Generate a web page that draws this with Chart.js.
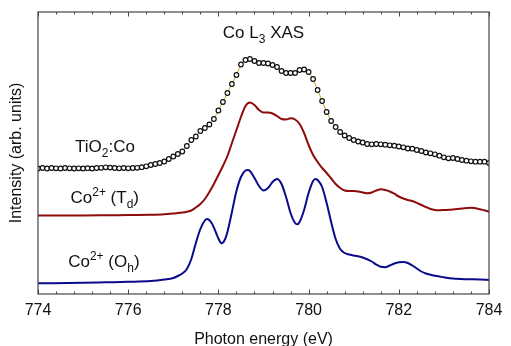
<!DOCTYPE html>
<html>
<head>
<meta charset="utf-8">
<script src="https://cdn.jsdelivr.net/npm/chart.js@4.4.1/dist/chart.umd.min.js"></script>
<style>
html,body{margin:0;padding:0;background:#fff;}
canvas{display:block;}
</style>
</head>
<body>
<canvas id="c" width="511" height="346"></canvas>
<script>
// ---- Data (Photon energy in eV, intensity in arb. units) ----
const energyTiO2 = [774.0,774.1,774.2,774.3,774.4,774.5,774.6,774.7,774.8,774.9,
775.0,775.1,775.2,775.3,775.4,775.5,775.6,775.7,775.8,775.9,
776.0,776.1,776.2,776.3,776.4,776.5,776.6,776.7,776.8,776.9,
777.0,777.1,777.2,777.3,777.4,777.5,777.6,777.7,777.8,777.9,
778.0,778.1,778.2,778.3,778.4,778.5,778.6,778.7,778.8,778.9,
779.0,779.1,779.2,779.3,779.4,779.5,779.6,779.7,779.8,779.9,
780.0,780.1,780.2,780.3,780.4,780.5,780.6,780.7,780.8,780.9,
781.0,781.1,781.2,781.3,781.4,781.5,781.6,781.7,781.8,781.9,
782.0,782.1,782.2,782.3,782.4,782.5,782.6,782.7,782.8,782.9,
783.0,783.1,783.2,783.3,783.4,783.5,783.6,783.7,783.8,783.9,784.0];
const intensityTiO2 = [1.255,1.26,1.255,1.26,1.257,1.255,1.26,1.257,1.255,1.257,
1.255,1.258,1.255,1.26,1.262,1.267,1.264,1.26,1.257,1.26,
1.257,1.26,1.262,1.268,1.277,1.29,1.30,1.31,1.325,1.35,
1.375,1.40,1.425,1.48,1.54,1.575,1.63,1.66,1.695,1.75,
1.835,1.92,2.01,2.10,2.19,2.295,2.34,2.35,2.33,2.31,
2.31,2.305,2.29,2.27,2.23,2.21,2.21,2.21,2.24,2.245,
2.22,2.15,2.04,1.93,1.82,1.73,1.67,1.62,1.585,1.56,
1.54,1.525,1.515,1.50,1.497,1.50,1.497,1.493,1.487,1.483,
1.475,1.467,1.455,1.453,1.44,1.43,1.415,1.407,1.397,1.383,
1.367,1.357,1.36,1.35,1.34,1.333,1.327,1.323,1.323,1.323,1.31];

const energyTd = [774.0,774.5,775.0,775.5,776.0,776.5,776.8,777.0,777.1,777.2,777.3,777.4,777.5,777.6,777.7,777.8,777.9,
778.0,778.1,778.2,778.3,778.4,778.5,778.6,778.7,778.8,778.9,
779.0,779.1,779.2,779.3,779.4,779.5,779.6,779.7,779.8,779.9,
780.0,780.1,780.2,780.3,780.4,780.5,780.6,780.7,780.8,780.9,
781.0,781.1,781.2,781.3,781.4,781.5,781.6,781.7,781.8,781.9,
782.0,782.1,782.2,782.3,782.4,782.5,782.6,782.7,782.8,782.9,
783.0,783.2,783.4,783.6,783.8,784.0];
const intensityTd = [0.785,0.785,0.785,0.787,0.79,0.792,0.797,0.805,0.81,0.815,0.823,0.835,0.865,0.90,0.95,1.02,1.10,
1.19,1.28,1.38,1.51,1.64,1.77,1.88,1.915,1.89,1.84,
1.815,1.815,1.805,1.78,1.75,1.745,1.757,1.745,1.70,1.61,
1.49,1.39,1.32,1.26,1.21,1.155,1.10,1.06,1.035,1.03,
1.03,1.025,1.015,1.007,1.015,1.035,1.047,1.04,1.025,1.003,
0.975,0.955,0.94,0.93,0.912,0.89,0.87,0.85,0.84,0.838,
0.84,0.845,0.855,0.862,0.848,0.823];

const energyOh = [774.0,775.0,775.5,776.0,776.5,776.8,777.0,777.1,777.2,777.3,777.4,777.5,777.6,777.7,777.75,777.85,777.95,
778.0,778.07,778.15,778.2,778.3,778.4,778.5,778.6,778.65,778.7,778.8,778.9,
779.0,779.1,779.2,779.3,779.4,779.5,779.6,779.7,779.75,779.8,779.9,
780.0,780.1,780.15,780.2,780.3,780.4,780.5,780.6,780.7,780.8,780.9,
781.0,781.2,781.4,781.5,781.6,781.7,781.8,781.9,
782.0,782.1,782.2,782.3,782.4,782.5,782.6,782.8,783.0,783.2,783.5,783.8,784.0];
const intensityOh = [0.107,0.112,0.117,0.122,0.13,0.145,0.16,0.18,0.205,0.25,0.35,0.51,0.65,0.735,0.75,0.71,0.61,
0.555,0.507,0.55,0.62,0.82,1.03,1.17,1.235,1.24,1.23,1.16,1.08,
1.035,1.06,1.12,1.15,1.10,0.97,0.81,0.71,0.697,0.72,0.84,
1.01,1.13,1.15,1.14,1.07,0.91,0.72,0.55,0.45,0.41,0.395,
0.385,0.365,0.325,0.295,0.272,0.268,0.285,0.305,
0.318,0.32,0.31,0.285,0.255,0.225,0.205,0.182,0.167,0.155,0.148,0.145,0.14];

const xTickValues = [774, 776, 778, 780, 782, 784];
const xMinorStep = 0.4;

// Text annotations (energy, intensity) anchor = left baseline, or centre for title
const annotations = [
  {parts:[{t:'Co L'},{t:'3',sub:true},{t:' XAS'}], x:779.0, y:2.56, align:'center'},
  {parts:[{t:'TiO'},{t:'2',sub:true},{t:':Co'}], x:774.82, y:1.42, align:'left'},
  {parts:[{t:'Co'},{t:'2+',sup:true},{t:' (T'},{t:'d',sub:true},{t:')'}], x:774.72, y:0.91, align:'left'},
  {parts:[{t:'Co'},{t:'2+',sup:true},{t:' (O'},{t:'h',sub:true},{t:')'}], x:774.67, y:0.27, align:'left'}
];

const toXY = (xs, ys) => xs.map((x, i) => ({x: x, y: ys[i]}));

const FONT = '"Liberation Sans", Arial, sans-serif';

const framePlugin = {
  id: 'frame',
  afterDatasetsDraw(chart) {
    const {ctx, chartArea: a, scales: {x}} = chart;
    ctx.save();
    ctx.strokeStyle = '#444';
    ctx.lineWidth = 1.2;
    ctx.strokeRect(a.left, a.top, a.right - a.left, a.bottom - a.top);
    ctx.lineWidth = 1;
    const n = Math.round((x.max - x.min) / xMinorStep);
    for (let i = 0; i <= n; i++) {
      const v = x.min + i * xMinorStep;
      const px = Math.round(x.getPixelForValue(v)) + 0.5;
      const major = xTickValues.some(t => Math.abs(t - v) < 1e-6);
      const len = major ? 4.5 : 2.5;
      ctx.beginPath();
      ctx.moveTo(px, a.bottom); ctx.lineTo(px, a.bottom - len);
      ctx.moveTo(px, a.top); ctx.lineTo(px, a.top + len);
      ctx.stroke();
    }
    ctx.restore();
  },
  afterDraw(chart) {
    const {ctx, scales: {x, y}} = chart;
    ctx.save();
    ctx.fillStyle = '#111';
    ctx.textBaseline = 'alphabetic';
    const big = '17px ' + FONT, small = '12px ' + FONT;
    annotations.forEach(an => {
      let w = 0;
      an.parts.forEach(p => { ctx.font = (p.sub || p.sup) ? small : big; w += ctx.measureText(p.t).width; });
      let px = x.getPixelForValue(an.x);
      if (an.align === 'center') px -= w / 2;
      const py = y.getPixelForValue(an.y);
      an.parts.forEach(p => {
        ctx.font = (p.sub || p.sup) ? small : big;
        const dy = p.sub ? 4.5 : (p.sup ? -7 : 0);
        ctx.textAlign = 'left';
        ctx.fillText(p.t, px, py + dy);
        px += ctx.measureText(p.t).width;
      });
    });
    ctx.restore();
  }
};

new Chart(document.getElementById('c'), {
  type: 'line',
  data: {
    datasets: [
      {
        label: 'TiO2:Co',
        data: toXY(energyTiO2, intensityTiO2),
        borderColor: '#c9a227',
        borderWidth: 1,
        pointRadius: 2.3,
        pointBorderWidth: 1.2,
        pointBorderColor: '#111',
        pointBackgroundColor: '#fff',
        tension: 0,
        order: 0
      },
      {
        label: 'Co2+ (Td)',
        data: toXY(energyTd, intensityTd),
        borderColor: '#8e0c0c',
        borderWidth: 2,
        pointRadius: 0,
        cubicInterpolationMode: 'monotone',
        order: 1
      },
      {
        label: 'Co2+ (Oh)',
        data: toXY(energyOh, intensityOh),
        borderColor: '#0a0a8c',
        borderWidth: 2,
        pointRadius: 0,
        cubicInterpolationMode: 'monotone',
        order: 2
      }
    ]
  },
  options: {
    responsive: false,
    animation: false,
    devicePixelRatio: 1,
    layout: {padding: {top: 12, right: 22, left: 0, bottom: 0}},
    plugins: {legend: {display: false}, tooltip: {enabled: false}},
    scales: {
      x: {
        type: 'linear',
        min: 774, max: 784,
        grid: {display: false},
        border: {display: false},
        afterBuildTicks: s => { s.ticks = xTickValues.map(v => ({value: v})); },
        afterFit: s => { s.height = 52; },
        ticks: {color: '#111', font: {family: FONT, size: 16}, padding: -1, maxRotation: 0, autoSkip: false},
        title: {display: true, text: 'Photon energy (eV)', color: '#111', font: {family: FONT, size: 16}, padding: {top: 0, bottom: -3}}
      },
      y: {
        type: 'linear',
        min: 0, max: 2.82,
        grid: {display: false},
        border: {display: false},
        ticks: {display: false},
        afterFit: s => { s.width = 38; },
        title: {display: true, text: 'Intensity (arb. units)', color: '#111', font: {family: FONT, size: 16}, padding: {top: 7, bottom: 0}}
      }
    }
  },
  plugins: [framePlugin]
});
</script>
</body>
</html>
